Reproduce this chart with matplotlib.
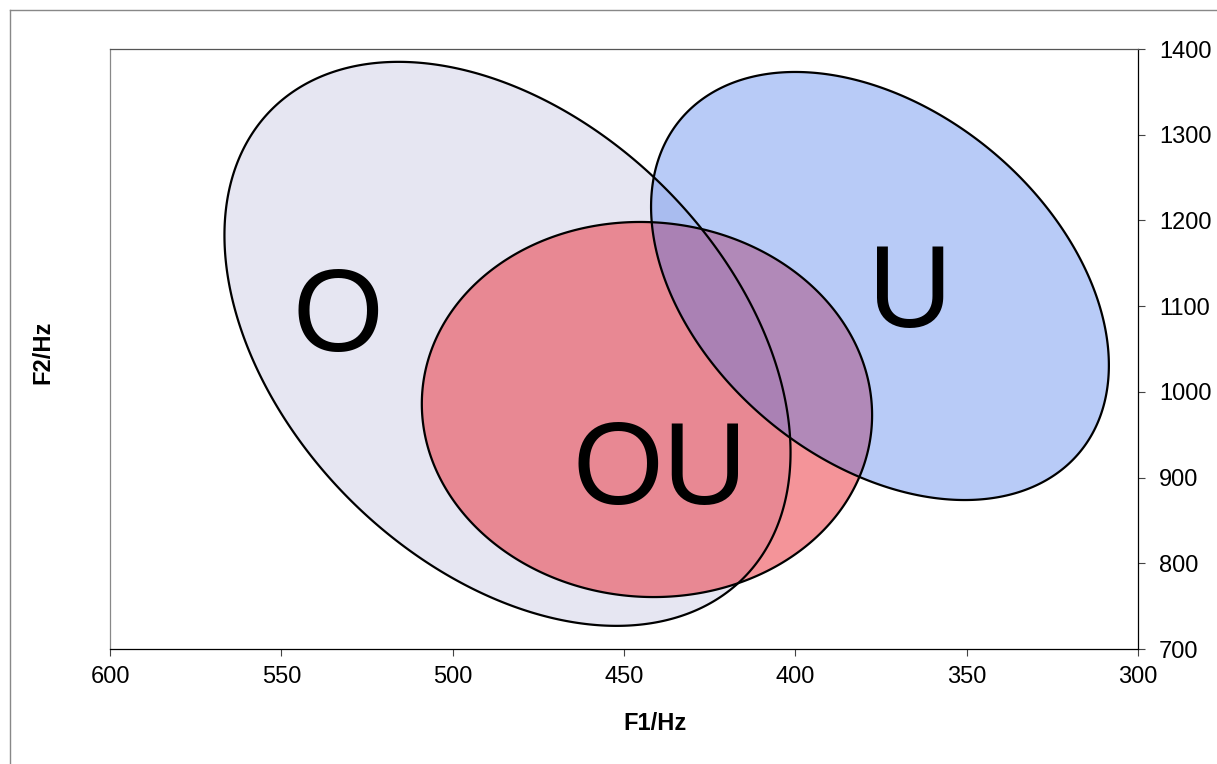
import numpy as np
import matplotlib
matplotlib.use("Agg")
import matplotlib.pyplot as plt
from matplotlib.lines import Line2D

plt.rcParams['font.family'] = ['Liberation Sans', 'DejaVu Sans']

# Vowel regions (F1, F2 in Hz): centre, half-extent along F1 and F2, and F1/F2 coupling
vowels = ["O", "OU", "U"]
center_f1 = [484.0, 443.3, 375.3]
center_f2 = [1056.0, 979.4, 1123.5]
half_f1 = [82.6, 65.7, 66.8]
half_f2 = [329.0, 218.8, 249.7]
coupling = [0.385, 0.03, 0.37]

# label anchor points (F1, F2 baseline)
label_f1 = [533.5, 439.5, 366.5]
label_f2 = [1048.0, 869.0, 1076.0]

x_ticks = [600, 550, 500, 450, 400, 350, 300]
y_ticks = [700, 800, 900, 1000, 1100, 1200, 1300, 1400]

face_colors = ["#e6e6f2", "#eb3c46", "#4678eb"]
face_alpha = [1.0, 0.55, 0.38]

fig = plt.figure(figsize=(12.17, 7.64), dpi=100)
W, H = 1217, 764
ax = fig.add_axes([110 / W, 1 - 649 / H, 1028 / W, 600 / H])

t = np.linspace(0, 2 * np.pi, 720, endpoint=False)
for i, name in enumerate(vowels):
    a = np.arccos(coupling[i])
    xs = center_f1[i] + half_f1[i] * np.cos(t)
    ys = center_f2[i] + half_f2[i] * np.cos(t - a)
    ax.fill(xs, ys, facecolor=face_colors[i], alpha=face_alpha[i],
            edgecolor='none', zorder=2 + i)
    ax.fill(xs, ys, facecolor='none', edgecolor='black', lw=1.6, zorder=6)

for i, name in enumerate(vowels):
    ax.text(label_f1[i], label_f2[i], name, fontsize=84, ha='center',
            va='baseline', color='black', zorder=7)

ax.set_xlim(600, 300)
ax.set_ylim(700, 1400)
ax.set_xticks(x_ticks)
ax.set_yticks(y_ticks)
ax.yaxis.tick_right()
ax.tick_params(axis='x', direction='out', length=5, width=0.8, pad=7,
               labelsize=17, colors='#444444', labelcolor='black')
ax.tick_params(axis='y', direction='out', length=5, width=0.8, pad=10,
               labelsize=17, colors='#444444', labelcolor='black')

ax.spines['left'].set_color('#888888')
ax.spines['top'].set_color('#555555')
ax.spines['right'].set_color('black')
ax.spines['bottom'].set_color('black')
for s in ax.spines.values():
    s.set_linewidth(0.9)

ax.set_xlabel("F1/Hz", fontsize=17, fontweight='bold', va='center')
ax.xaxis.set_label_coords((655 - 110) / 1028, (649 - 723) / 600)
ax.set_ylabel("F2/Hz", fontsize=17, fontweight='bold', va='center')
ax.yaxis.set_label_position('left')
ax.yaxis.set_label_coords((54 - 110) / 1028, (649 - 352) / 600)

# outer chart frame
fig.add_artist(Line2D([9.5 / W, 9.5 / W], [0, 1 - 10 / H], transform=fig.transFigure,
                      color='#888888', lw=1.0))
fig.add_artist(Line2D([9.5 / W, 1], [1 - 10 / H, 1 - 10 / H], transform=fig.transFigure,
                      color='#888888', lw=1.0))

fig.savefig("out.png", dpi=100)
